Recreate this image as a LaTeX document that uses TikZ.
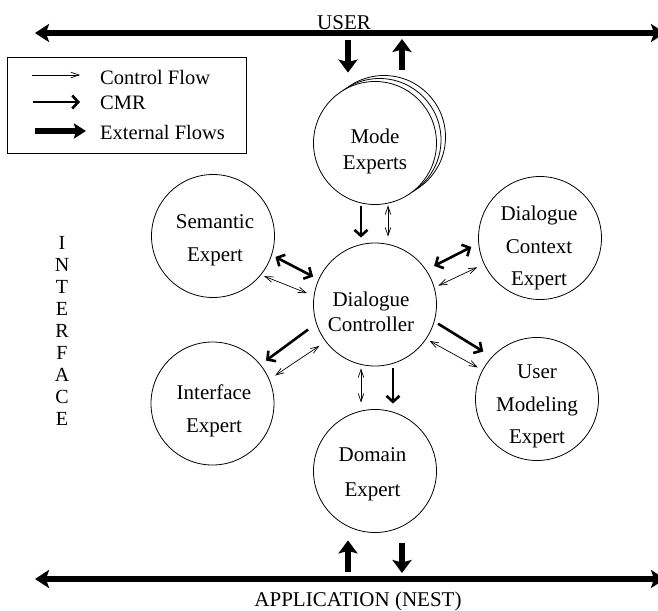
\documentclass[tikz,border=0pt]{standalone}
\usepackage{fontspec}
\setmainfont{Liberation Serif}
\usetikzlibrary{arrows.meta,calc}
\begin{document}
\begin{tikzpicture}[x=1pt,y=-1pt,
  thintip/.tip={Straight Barb[length=8pt,width=5.5pt]},
  cmrtip/.tip={Straight Barb[length=6pt,width=13pt]},
  exttip/.tip={Stealth[length=13pt,width=19pt,inset=2.5pt]},
  bustip/.tip={Stealth[length=14pt,width=18pt,inset=3pt]},
  legtip/.tip={Stealth[length=12pt,width=15pt,inset=2pt]},
  expert/.style={circle,draw,line width=0.8pt,minimum size=123pt,inner sep=0pt,fill=white},
  caption/.style={align=center,font=\fontsize{21}{25}\selectfont},
  legtext/.style={anchor=west,inner sep=0pt,font=\fontsize{20.5}{24}\selectfont},
  cflow/.style={line width=0.7pt,arrows={thintip-thintip}},
  cflowone/.style={line width=0.7pt,arrows={-thintip}},
  cmr/.style={line width=2.6pt,arrows={-cmrtip}},
  cmrboth/.style={line width=2.6pt,arrows={cmrtip-cmrtip}},
  ext/.style={line width=6pt,arrows={-exttip}},
  bus/.style={line width=6pt,arrows={bustip-bustip}}
]
\useasboundingbox (0,0) rectangle (658,610);

% user bus and application bus
\coordinate (userL) at (35,33);
\coordinate (userR) at (665,33);
\coordinate (appL) at (35,579);
\coordinate (appR) at (665,579);
\draw[bus] (userL) -- (userR);
\draw[bus] (appL) -- (appR);
\node[font=\fontsize{21}{25}\selectfont,inner sep=0pt] (user) at (344,23) {USER};
\node[font=\fontsize{21}{25}\selectfont,inner sep=0pt] (app) at (358,601.5) {APPLICATION (NEST)};

% legend
\node[draw,line width=0.8pt,anchor=north west,minimum width=239pt,minimum height=96pt,inner sep=0pt] (legend) at (7,57) {};
\coordinate (lg1a) at (32,75);  \coordinate (lg1b) at (80,75);
\coordinate (lg2a) at (33,102); \coordinate (lg2b) at (80,102);
\coordinate (lg3a) at (35,131); \coordinate (lg3b) at (86,131);
\draw[cflowone] (lg1a) -- (lg1b);
\draw[cmr] (lg2a) -- (lg2b);
\draw[line width=6pt,arrows={-legtip}] (lg3a) -- (lg3b);
\node[legtext] (lgt1) at (100,77) {Control Flow};
\node[legtext] (lgt2) at (100,103) {CMR};
\node[legtext] (lgt3) at (100,132) {External Flows};

% vertical INTERFACE label
\node[align=center,font=\fontsize{20}{22}\selectfont,inner sep=0pt] (iface) at (62,331)
  {I\\N\\T\\E\\R\\F\\A\\C\\E};

% experts
\node[expert] (M2) at (384,137) {};
\node[expert] (M1) at (379.5,140) {};
\node[expert] (M) at (375,143) {};
\node[expert] (S) at (213,236) {};
\node[expert] (X) at (540,238) {};
\node[expert] (C) at (375,304.5) {};
\node[expert] (U) at (537,399) {};
\node[expert] (I) at (212.5,403.5) {};
\node[expert] (D) at (375,471) {};

\node[caption] (Mt) at (375,151) {Mode\\[1pt]Experts};
\node[caption] (St) at (215,240.5) {Semantic\\[8pt]Expert};
\node[caption] (Ct) at (371,311.5) {Dialogue\\Controller};
\node[caption] (Xt) at (539,248) {Dialogue\\[7.5pt]Context\\[7.5pt]Expert};
\node[caption] (Ut) at (537,406) {User\\[8pt]Modeling\\[7pt]Expert};
\node[caption] (It) at (214,410.5) {Interface\\[8pt]Expert};
\node[caption] (Dt) at (372.5,474.5) {Domain\\[10pt]Expert};

% external flows
\coordinate (mIn) at ([xshift=-27pt]M.north);
\coordinate (mOut) at ([xshift=27pt]M.north);
\coordinate (dIn) at ([xshift=-27pt]D.south);
\coordinate (dOut) at ([xshift=27pt]D.south);
\draw[ext,shorten <=7pt,shorten >=8.5pt] (mIn |- userL) -- (mIn);
\draw[ext,shorten <=11.5pt,shorten >=6pt] (mOut) -- (mOut |- userL);
\draw[ext,shorten <=7pt,shorten >=7.5pt] (dIn |- appL) -- (dIn);
\draw[ext,shorten <=10.5pt,shorten >=6pt] (dOut) -- (dOut |- appL);

% mode experts and domain expert links
\draw[cmr,shorten <=1.5pt,shorten >=5pt] ([xshift=-14pt]M.south) -- ([xshift=-14pt]C.north);
\draw[cflow,shorten <=0.5pt,shorten >=6pt] ([xshift=13pt]M.south) -- ([xshift=13pt]C.north);
\draw[cmr,shorten <=2pt,shorten >=5.5pt] ([xshift=18pt]C.south) -- ([xshift=18pt]D.north);
\draw[cflow,shorten <=2pt,shorten >=6.5pt] ([xshift=-14pt]C.south) -- ([xshift=-14pt]D.north);

% side experts
\draw[cmrboth,shorten <=4pt,shorten >=6pt] (S.-18.7) -- (C.156.9);
\draw[cflow,shorten <=3.2pt,shorten >=7.2pt] (S.-39.4) -- (C.172);
\draw[cmrboth,shorten <=8.7pt,shorten >=7.9pt] (C.34.3) -- (X.185.8);
\draw[cflow,shorten <=4.2pt,shorten >=7.4pt] (C.16.4) -- (X.205.8);
\draw[cmr,shorten <=10pt,shorten >=6.7pt] (C.198.3) -- (I.39.6);
\draw[cflow,shorten <=7.4pt,shorten >=6.8pt] (C.217) -- (I.23.7);
\draw[cmr,shorten <=4.2pt,shorten >=10pt] (C.-16.4) -- (U.137.8);
\draw[cflow,shorten <=3.7pt,shorten >=5.1pt] (C.-34) -- (U.152.3);
\end{tikzpicture}
\end{document}
